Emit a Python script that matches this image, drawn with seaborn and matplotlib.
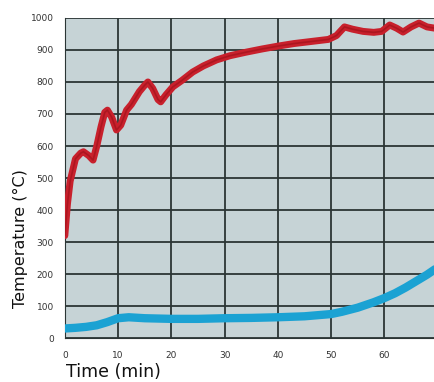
import matplotlib
matplotlib.use("Agg")
import matplotlib.pyplot as plt
import seaborn as sns
import pandas as pd

# Furnace (red) temperature curve
red_time = [0, 0.5, 1, 2, 3, 3.5, 4.5, 5.3, 6, 6.8, 7.5, 8, 8.8, 9.7, 10.5, 11.6, 12.5, 14, 15, 15.6,
            16.5, 17.5, 18, 19, 20.3, 22, 24, 26, 28.5, 31, 34, 37, 40, 43, 46, 49.5, 51, 52.5, 54,
            56, 58, 59.5, 61, 62.3, 63.5, 65, 66.5, 68, 69.5]
red_temp = [320, 420, 490, 560, 578, 582, 570, 556, 600, 660, 705, 712, 690, 650, 665, 712, 730, 770,
            790, 800, 780, 745, 738, 760, 785, 805, 831, 850, 869, 882, 893, 903, 912, 920, 926, 933,
            945, 972, 965, 958, 955, 958, 978, 968, 956, 972, 984, 972, 968]

# Unexposed side (blue) temperature curve
blue_time = [0, 2, 4, 6, 8, 10, 12, 15, 20, 25, 30, 35, 40, 45, 50, 52, 55, 58, 60, 62, 64, 66, 68, 69.5]
blue_temp = [30, 32, 35, 40, 50, 62, 65, 62, 60, 60, 62, 63, 65, 68, 75, 82, 95, 112, 125, 140, 158,
             178, 198, 215]

x_ticks = [0, 10, 20, 30, 40, 50, 60]
y_ticks = [0, 100, 200, 300, 400, 500, 600, 700, 800, 900, 1000]

df_red = pd.DataFrame({"t": red_time, "T": red_temp})
df_blue = pd.DataFrame({"t": blue_time, "T": blue_temp})

sns.set_style("white")
fig = plt.figure(figsize=(4.35, 3.82), dpi=100)
ax = fig.add_axes([0.149, 0.115, 0.851, 0.838])
ax.set_facecolor("#c6d3d6")

sns.lineplot(data=df_blue, x="t", y="T", ax=ax, color="#1ba2d3", linewidth=6.0, zorder=3)
sns.lineplot(data=df_red, x="t", y="T", ax=ax, color="#c8202c", linewidth=5.0, zorder=4)
sns.lineplot(data=df_red, x="t", y="T", ax=ax, color="#9a1018", linewidth=1.2, zorder=5, alpha=0.6)

ax.set_xlim(0, 69.5)
ax.set_ylim(0, 1000)
ax.set_xticks(x_ticks)
ax.set_yticks(y_ticks)
ax.set_xticklabels([str(v) for v in x_ticks], fontsize=6.5, color="#333333")
ax.set_yticklabels([str(v) for v in y_ticks], fontsize=6.5, color="#333333")
ax.tick_params(axis="x", length=0, pad=9)
ax.tick_params(axis="y", length=0, pad=8)
ax.grid(True, color="#2b3535", linewidth=1.3, zorder=1)
ax.set_axisbelow(True)
for s in ax.spines.values():
    s.set_visible(False)
ax.spines["left"].set_visible(True)
ax.spines["left"].set_color("#2b3535")
ax.spines["bottom"].set_visible(True)
ax.spines["bottom"].set_color("#2b3535")

ax.set_xlabel("Time (min)", fontsize=12.5, color="#111111")
ax.xaxis.set_label_coords(0.13, -0.106, transform=ax.transAxes)
ax.xaxis.label.set_verticalalignment("center")
ax.set_ylabel("Temperature (°C)", fontsize=11.5, color="#111111")
ax.yaxis.set_label_coords(-0.119, 0.31, transform=ax.transAxes)
ax.yaxis.label.set_verticalalignment("center")

fig.savefig("out.png", dpi=100)
